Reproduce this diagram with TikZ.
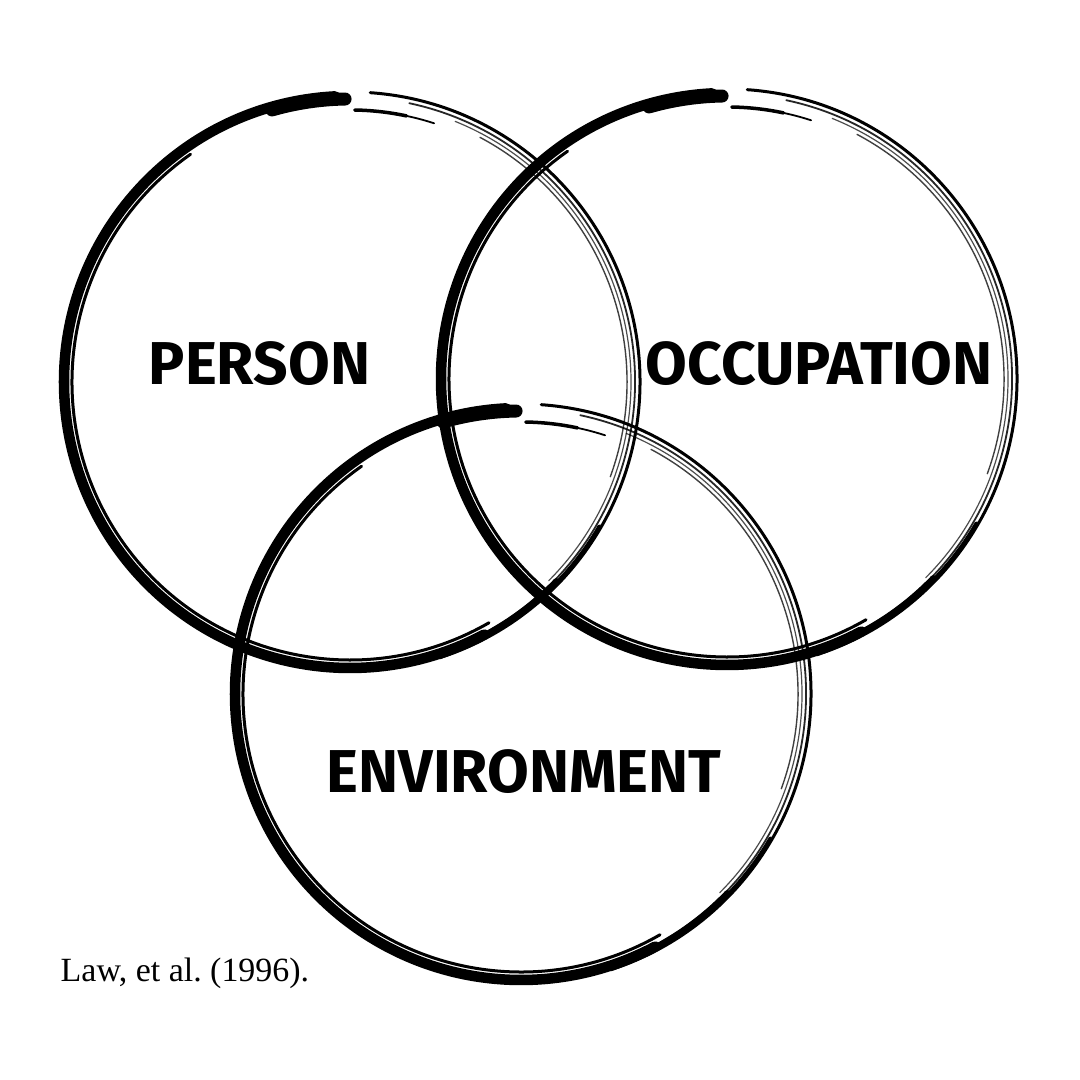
\documentclass[tikz,border=0pt]{standalone}
\usepackage{fontspec}
\setmainfont{Liberation Serif}
\newfontfamily\labelfont{Fira Sans}
\begin{document}
\begin{tikzpicture}[x=0.01cm,y=0.01cm,
  brushline/.style={draw=black,line cap=round},
  setlabel/.style={font=\labelfont\bfseries\fontsize{17.2}{20}\selectfont,anchor=base,inner sep=0pt},
  cite/.style={font=\fontsize{9.65}{12}\selectfont,anchor=base west,inner sep=0pt},
  brush/.pic={
    % thick main stroke
    \draw[brushline,line width=0.105cm] (93:286) arc[start angle=93,end angle=298,radius=286];
    \draw[brushline,line width=0.13cm] (91:283) arc[start angle=91,end angle=106,radius=283];
    \draw[brushline,line width=0.065cm] (285:287) arc[start angle=285,end angle=316,radius=287];
    \draw[brushline,line width=0.035cm] (300:288) arc[start angle=300,end angle=330,radius=288];
    \draw[brushline,line width=0.03cm] (125:278) arc[start angle=125,end angle=300,radius=278];
    % thin strands on the right
    \draw[brushline,line width=0.03cm] (86:290) arc[start angle=86,end angle=-72,radius=290];
    \draw[brushline,line width=0.018cm,opacity=0.85] (78:285) arc[start angle=78,end angle=-62,radius=285];
    \draw[brushline,line width=0.012cm,opacity=0.7] (68:281) arc[start angle=68,end angle=-45,radius=281];
    \draw[brushline,line width=0.014cm,opacity=0.75] (62:277) arc[start angle=62,end angle=-20,radius=277];
    % short inner strand near the top
    \draw[brushline,line width=0.035cm] (89:272) arc[start angle=89,end angle=78,radius=272];
    \draw[brushline,line width=0.018cm] (78:272) arc[start angle=78,end angle=72,radius=272];
  }]
\fill[white] (0,0) rectangle (1080,1080);
\useasboundingbox (0,0) rectangle (1080,1080);
\coordinate (cp) at (350,698);
\coordinate (co) at (727,701);
\coordinate (ce) at (521,386);
\pic at (cp) {brush};
\pic at (co) {brush};
\pic at (ce) {brush};
\node[setlabel] (person) at (259.5,695) {PERSON};
\node[setlabel] (occupation) at (819,695) {OCCUPATION};
\node[setlabel] (environment) at (524,287) {ENVIRONMENT};
\node[cite] (law) at (60,98) {\frenchspacing Law, et al. (1996).};
\end{tikzpicture}
\end{document}
